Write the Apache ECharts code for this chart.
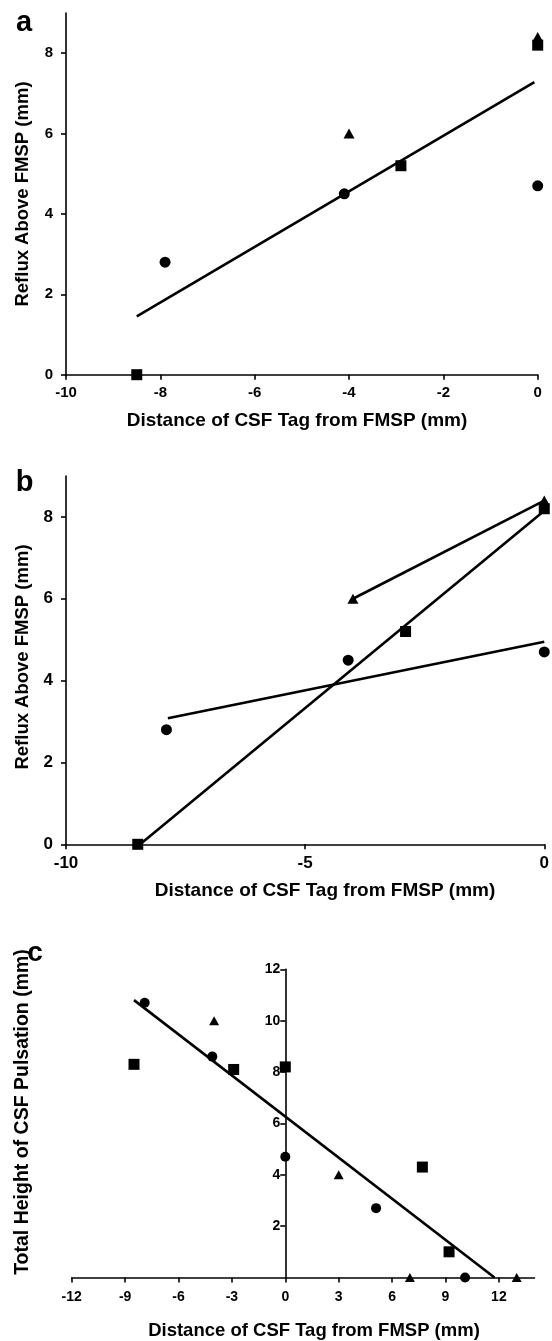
<!DOCTYPE html>
<html>
<head>
<meta charset="utf-8">
<script src="https://cdn.jsdelivr.net/npm/echarts@6/dist/echarts.min.js"></script>
<style>
html,body{margin:0;padding:0;background:#fff;}
#chart{width:552px;height:1341px;}
</style>
</head>
<body>
<div id="chart"></div>
<script>
// ---- Data: panels a & b (Reflux above FMSP vs distance of CSF tag) ----
const circleX = [-7.9, -4.1, 0];
const circleY = [2.8, 4.5, 4.7];
const squareX = [-8.5, -2.9, 0];
const squareY = [0, 5.2, 8.2];
const triangleX = [-4.0, 0];
const triangleY = [6.0, 8.4];

// panel a: pooled regression line endpoints
const aFitX = [-8.5, -0.07];
const aFitY = [1.45, 7.28];

// panel b: per-subject lines endpoints
const bSquareFitX = [-8.45, 0];
const bSquareFitY = [0, 8.15];
const bCircleFitX = [-7.87, 0];
const bCircleFitY = [3.08, 4.95];
const bTriangleFitX = [-4.0, 0];
const bTriangleFitY = [6.0, 8.4];

// ---- Data: panel c (Total height of CSF pulsation) ----
const cCircleX = [-7.9, -4.1, 0, 5.1, 10.1];
const cCircleY = [10.7, 8.6, 4.7, 2.7, 0];
const cSquareX = [-8.5, -2.9, 0, 7.7, 9.2];
const cSquareY = [8.3, 8.1, 8.2, 4.3, 1.0];
const cTriangleX = [-4.0, 3.0, 7.0, 13.0];
const cTriangleY = [10.0, 4.0, 0, 0];
const cFitX = [-8.5, 11.75];
const cFitY = [10.8, 0];

// ---- Tick labels ----
const aXTicks = [-10, -8, -6, -4, -2, 0];
const abYTicks = [0, 2, 4, 6, 8];
const bXTicks = [-10, -5, 0];
const cXTicks = [-12, -9, -6, -3, 0, 3, 6, 9, 12];
const cYTicks = [2, 4, 6, 8, 10, 12];

// ---- Texts ----
const xTitle = 'Distance of CSF Tag from FMSP (mm)';
const abYTitle = 'Reflux Above FMSP (mm)';
const cYTitle = 'Total Height of CSF Pulsation (mm)';

const FONT = '"Liberation Sans", Arial, Helvetica, sans-serif';
const pts = (xs, ys) => xs.map((x, i) => [x, ys[i]]);

function axisCommon(fontSize, margin) {
  return {
    axisLine: { show: true, onZero: false, lineStyle: { color: '#000', width: 1.6 } },
    axisTick: { show: true, length: 5, lineStyle: { color: '#000', width: 1.6 } },
    axisLabel: { color: '#000', fontWeight: 'bold', fontFamily: FONT, fontSize: fontSize, margin: margin },
    splitLine: { show: false }
  };
}

function mkAxis(base, extra) {
  const o = JSON.parse(JSON.stringify(base));
  for (const k in extra) {
    if (typeof extra[k] === 'object' && !Array.isArray(extra[k]) && o[k]) Object.assign(o[k], extra[k]);
    else o[k] = extra[k];
  }
  return o;
}

// grid geometry (pixels)
const gridA = { left: 66, top: 13, width: 471.7, height: 361.7 };
const gridB = { left: 66, top: 476, width: 481, height: 368.3 };
const gridC = { left: 71.7, top: 969.3, width: 462.8, height: 308.2 };
const cXMin = -12, cXMax = 14;
// y axis of panel c sits at x = 0
const cYOffset = -gridC.width * (0 - cXMin) / (cXMax - cXMin);

const xAxes = [
  mkAxis(axisCommon(15, 11), { type: 'value', gridIndex: 0, min: -10, max: 0, interval: 2,
    axisTick: { customValues: aXTicks }, axisLabel: { customValues: aXTicks } }),
  mkAxis(axisCommon(17, 11), { type: 'value', gridIndex: 1, min: -10, max: 0, interval: 5,
    axisTick: { customValues: bXTicks }, axisLabel: { customValues: bXTicks } }),
  mkAxis(axisCommon(14, 13), { type: 'value', gridIndex: 2, min: cXMin, max: cXMax, interval: 3,
    axisTick: { customValues: cXTicks }, axisLabel: { customValues: cXTicks } })
];
const yAxes = [
  mkAxis(axisCommon(15, 13), { type: 'value', gridIndex: 0, min: 0, max: 9, interval: 2,
    axisTick: { customValues: abYTicks }, axisLabel: { customValues: abYTicks } }),
  mkAxis(axisCommon(17, 13), { type: 'value', gridIndex: 1, min: 0, max: 9, interval: 2,
    axisTick: { customValues: abYTicks }, axisLabel: { customValues: abYTicks } }),
  mkAxis(axisCommon(14, 5), { type: 'value', gridIndex: 2, min: 0, max: 12, interval: 2,
    position: 'left', offset: cYOffset,
    axisTick: { customValues: cYTicks }, axisLabel: { customValues: cYTicks } })
];

const BLACK = '#000';
function scatter(name, idx, data, symbol, size) {
  return { name, type: 'scatter', xAxisIndex: idx, yAxisIndex: idx, data, symbol, symbolSize: size,
    itemStyle: { color: BLACK, opacity: 1 }, clip: false, z: 5 };
}
function fit(name, idx, data) {
  return { name, type: 'line', xAxisIndex: idx, yAxisIndex: idx, data, showSymbol: false, symbol: 'none',
    lineStyle: { color: BLACK, width: 2.6, opacity: 1 }, clip: false, z: 4, silent: true };
}

const series = [
  fit('a fit', 0, pts(aFitX, aFitY)),
  scatter('a circles', 0, pts(circleX, circleY), 'circle', 11),
  scatter('a triangles', 0, pts(triangleX, triangleY), 'triangle', [11, 10]),
  scatter('a squares', 0, pts(squareX, squareY), 'rect', 11),

  fit('b square fit', 1, pts(bSquareFitX, bSquareFitY)),
  fit('b circle fit', 1, pts(bCircleFitX, bCircleFitY)),
  fit('b triangle fit', 1, pts(bTriangleFitX, bTriangleFitY)),
  scatter('b circles', 1, pts(circleX, circleY), 'circle', 11),
  scatter('b triangles', 1, pts(triangleX, triangleY), 'triangle', [11, 10]),
  scatter('b squares', 1, pts(squareX, squareY), 'rect', 11),

  fit('c fit', 2, pts(cFitX, cFitY)),
  scatter('c circles', 2, pts(cCircleX, cCircleY), 'circle', 10),
  scatter('c triangles', 2, pts(cTriangleX, cTriangleY), 'triangle', [10, 9]),
  scatter('c squares', 2, pts(cSquareX, cSquareY), 'rect', 11)
];

function txt(text, x, y, size, rot) {
  return { type: 'text', x, y, rotation: rot || 0,
    style: { text, fill: '#000', font: 'bold ' + size + 'px ' + FONT, textAlign: 'center', textVerticalAlign: 'middle' } };
}

const graphic = [
  txt('a', 24, 22.5, 29),
  txt('b', 24.5, 482.5, 29),
  txt('c', 35, 953, 28),
  txt(xTitle, 297, 421, 19),
  txt(abYTitle, 23, 194, 18.5, Math.PI / 2),
  txt(xTitle, 325, 891, 19),
  txt(abYTitle, 23, 657, 18.5, Math.PI / 2),
  txt(xTitle, 314, 1331, 18.5),
  txt(cYTitle, 23, 1112, 19.5, Math.PI / 2)
];

const chart = echarts.init(document.getElementById('chart'), null, { renderer: 'canvas' });
chart.setOption({
  animation: false,
  backgroundColor: '#fff',
  grid: [gridA, gridB, gridC],
  xAxis: xAxes,
  yAxis: yAxes,
  series,
  graphic
});
</script>
</body>
</html>
